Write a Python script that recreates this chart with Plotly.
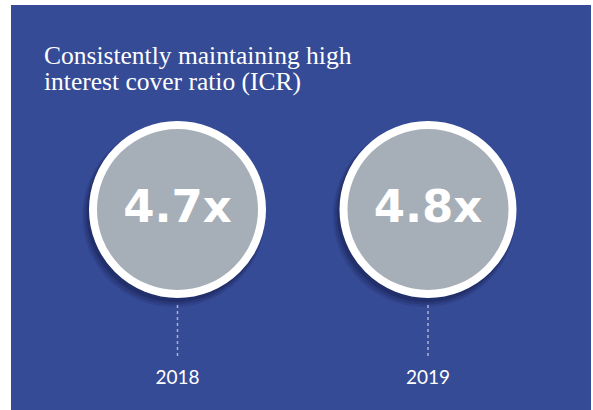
import plotly.graph_objects as go

years = ["2018", "2019"]
icr_values = [4.7, 4.8]
title_lines = ["Consistently maintaining high", "interest cover ratio (ICR)"]

W, H = 593, 410
BLUE = "#364b96"
GREY = "#a6aeb7"

# pixel-based layout positions
cx = [177.5, 428.0]
cy = 209.5
spacing = cx[1] - cx[0]
xs = list(range(len(years)))
x_left = -cx[0] / spacing
x_right = (W - cx[0]) / spacing
px = 1.0 / spacing

fig = go.Figure()

# soft shadow layers
for off, op, extra in [(6, 0.18, 6), (5, 0.25, 3), (4, 0.35, 0)]:
    fig.add_trace(go.Scatter(
        x=[x - off * 0.6 * px for x in xs], y=[cy + off for _ in xs],
        mode="markers",
        marker=dict(size=177 + extra, color=f"rgba(20,30,80,{op})", line=dict(width=0)),
        hoverinfo="skip", showlegend=False))

# circles
fig.add_trace(go.Scatter(
    x=xs, y=[cy for _ in xs], mode="markers",
    marker=dict(size=169, color=GREY, line=dict(color="white", width=8)),
    hoverinfo="skip", showlegend=False))

# values inside circles
fig.add_trace(go.Scatter(
    x=xs, y=[cy + 1 for _ in xs], mode="text",
    text=[f"{v:.1f}x" for v in icr_values],
    textposition="middle center",
    textfont=dict(family="DejaVu Sans", size=45, color="white", weight="bold"),
    hoverinfo="skip", showlegend=False))

# dotted connectors
for x in xs:
    fig.add_trace(go.Scatter(
        x=[x, x], y=[305, 358], mode="lines",
        line=dict(color="#aab2d2", width=1.5, dash="dot"),
        hoverinfo="skip", showlegend=False))

# year labels
fig.add_trace(go.Scatter(
    x=xs, y=[379 for _ in xs], mode="text", text=years,
    textfont=dict(family="Lato", size=19, color="white"),
    hoverinfo="skip", showlegend=False))

title_y = [55, 82]
fig.update_layout(
    width=W, height=H,
    margin=dict(l=0, r=0, t=0, b=0),
    paper_bgcolor="white", plot_bgcolor="rgba(0,0,0,0)",
    xaxis=dict(range=[x_left, x_right], visible=False, fixedrange=True),
    yaxis=dict(range=[H, 0], visible=False, fixedrange=True),
    shapes=[dict(type="rect", xref="paper", yref="paper",
                 x0=11 / W, x1=591 / W, y0=0, y1=1 - 5 / H,
                 fillcolor=BLUE, line=dict(width=0), layer="below")],
    annotations=[dict(
        xref="paper", yref="paper", x=42 / W, y=1 - ty / H,
        xanchor="left", yanchor="middle", align="left", showarrow=False,
        text=line,
        font=dict(family="Liberation Serif", size=25.5, color="white"))
        for line, ty in zip(title_lines, title_y)],
)

fig.write_html(
    "out.html",
    config={"displayModeBar": False},
    post_script="document.body.style.margin='0';document.body.style.padding='0';"
                "document.documentElement.style.overflow='hidden';",
)
